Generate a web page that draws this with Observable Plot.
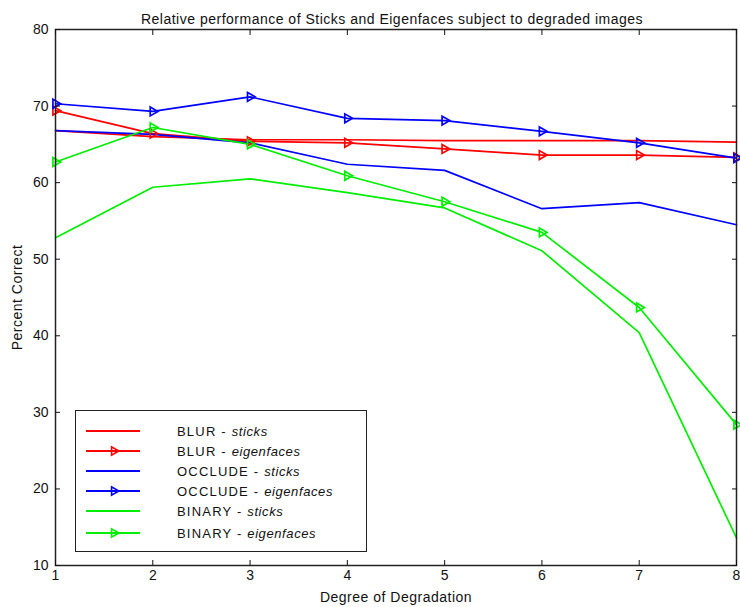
<!DOCTYPE html>
<html>
<head>
<meta charset="utf-8">
<script src="https://cdn.jsdelivr.net/npm/d3@7"></script>
<script src="https://cdn.jsdelivr.net/npm/@observablehq/plot@0.6"></script>
<style>
  html, body { margin: 0; padding: 0; background: white; }
  #wrap { position: relative; width: 740px; height: 607px; font-family: "Liberation Sans", Arial, sans-serif; }
  #legend { position: absolute; left: 75px; top: 410px; width: 290px; height: 140px; border: 1.5px solid #222; background: white; box-sizing: content-box; }
  .row { position: absolute; left: 0; height: 20px; display: flex; align-items: center; }
  .row svg { margin-left: 10px; }
  .row span { position: absolute; left: 101px; white-space: nowrap; font-size: 13px; color: #111; letter-spacing: 1.2px; }
  .row span i { letter-spacing: 0.6px; }
</style>
</head>
<body>
<div id="wrap"></div>
<script>
const degrees = [1, 2, 3, 4, 5, 6, 7, 8];
const seriesNames = ["BLUR - sticks", "BLUR - eigenfaces", "OCCLUDE - sticks", "OCCLUDE - eigenfaces", "BINARY - sticks", "BINARY - eigenfaces"];
const seriesColors = ["#ff0000", "#ff0000", "#0000ff", "#0000ff", "#00ee00", "#00ee00"];
const seriesMarker = [false, true, false, true, false, true];
const blurSticks = [66.8, 66.0, 65.6, 65.6, 65.5, 65.5, 65.5, 65.3];
const blurEigen = [69.4, 66.4, 65.4, 65.2, 64.4, 63.6, 63.6, 63.3];
const occludeSticks = [66.8, 66.3, 65.2, 62.4, 61.6, 56.6, 57.4, 54.5];
const occludeEigen = [70.3, 69.3, 71.2, 68.4, 68.1, 66.7, 65.2, 63.2];
const binarySticks = [52.8, 59.4, 60.5, 58.7, 56.7, 51.1, 40.4, 13.6];
const binaryEigen = [62.7, 67.2, 65.0, 60.9, 57.5, 53.5, 43.7, 28.4];
const xTicks = [1, 2, 3, 4, 5, 6, 7, 8];
const yTicks = [10, 20, 30, 40, 50, 60, 70, 80];
const titleText = "Relative performance of Sticks and Eigenfaces subject to degraded images";
const xLabel = "Degree of Degradation";
const yLabel = "Percent Correct";

const seriesValues = [blurSticks, blurEigen, occludeSticks, occludeEigen, binarySticks, binaryEigen];
const rows = [];
seriesValues.forEach((vals, i) => {
  vals.forEach((v, j) => rows.push({series: seriesNames[i], x: degrees[j], y: v}));
});

const lineMarks = seriesNames.map((name, i) =>
  Plot.line(rows.filter(d => d.series === name), {x: "x", y: "y", stroke: seriesColors[i], strokeWidth: 1.7}));
const dotMarks = seriesNames.map((name, i) => seriesMarker[i] ?
  Plot.dot(rows.filter(d => d.series === name), {x: "x", y: "y", symbol: "triangle", rotate: 90, r: 3.3, fill: "none", stroke: seriesColors[i], strokeWidth: 1.7}) : null).filter(Boolean);

const chart = Plot.plot({
  width: 740,
  height: 607,
  marginLeft: 55,
  marginRight: 4,
  marginTop: 29,
  marginBottom: 42,
  style: {fontFamily: "'Liberation Sans', Arial, sans-serif", fontSize: "14px", background: "white", color: "#111"},
  x: {domain: [1, 8], label: null},
  y: {domain: [10, 80], label: null},
  marks: [
    ...lineMarks,
    ...dotMarks,
    Plot.frame({stroke: "#222", strokeWidth: 1.5}),
    Plot.axisX({anchor: "bottom", ticks: xTicks, tickFormat: d => String(d), tickSize: -5, tickPadding: 10, label: xLabel, labelAnchor: "center", labelArrow: "none", labelOffset: 36, fontSize: 14}),
    Plot.axisX({anchor: "top", ticks: xTicks, tickSize: -5, tickFormat: () => "", label: null}),
    Plot.axisY({anchor: "left", ticks: yTicks, tickFormat: d => String(d), tickSize: -5, tickPadding: 12, label: yLabel, labelAnchor: "center", labelArrow: "none", labelOffset: 43, fontSize: 14}),
    Plot.axisY({anchor: "right", ticks: yTicks, tickSize: -5, tickFormat: () => "", label: null}),
    Plot.text([titleText], {frameAnchor: "top", dy: -15, dx: -4, fontSize: 14, fill: "#111"})
  ]
});

const wrap = document.getElementById("wrap");
wrap.appendChild(chart);
chart.querySelectorAll("text").forEach(t => {
  if (t.textContent === xLabel || t.textContent === yLabel || t.textContent === titleText) t.setAttribute("letter-spacing", "0.5");
});

// legend
const legend = document.createElement("div");
legend.id = "legend";
const rowTops = [10, 30, 50, 70, 90, 112];
seriesNames.forEach((name, i) => {
  const r = document.createElement("div");
  r.className = "row";
  r.style.top = rowTops[i] + "px";
  const parts = name.split(" - ");
  const c = seriesColors[i];
  const tri = seriesMarker[i] ? `<path d="${d3.symbol(d3.symbolTriangle, 30)()}" transform="translate(28,10) rotate(90)" fill="none" stroke="${c}" stroke-width="1.6"/>` : "";
  r.innerHTML = `<svg width="56" height="20"><line x1="0" x2="54" y1="10" y2="10" stroke="${c}" stroke-width="2"/>${tri}</svg><span>${parts[0]} - <i>${parts[1]}</i></span>`;
  legend.appendChild(r);
});
wrap.appendChild(legend);
</script>
</body>
</html>
